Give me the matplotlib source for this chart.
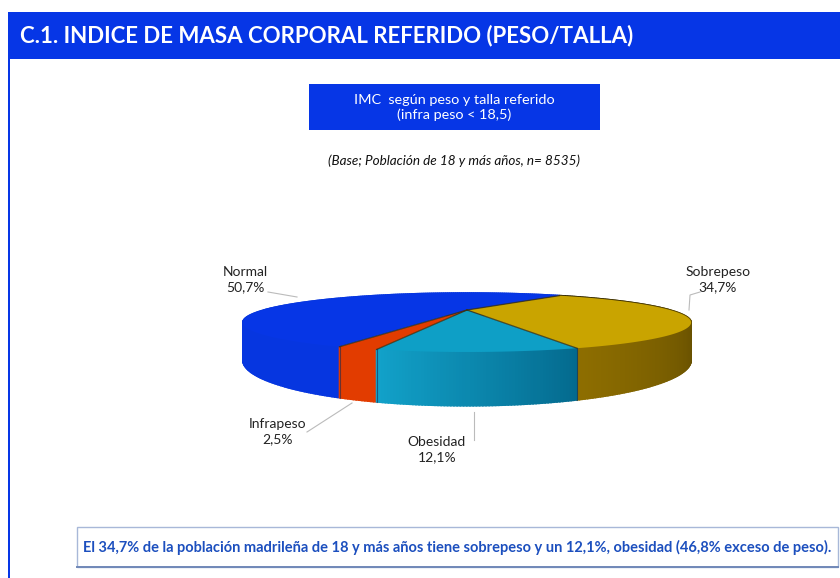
import numpy as np
import matplotlib
matplotlib.use('Agg')
import matplotlib.pyplot as plt
from matplotlib.patches import Rectangle
from matplotlib.colors import to_rgb

plt.rcParams['font.family'] = ['Lato', 'DejaVu Sans']

categories = ['Sobrepeso', 'Obesidad', 'Infrapeso', 'Normal']
values = [34.7, 12.1, 2.5, 50.7]
value_labels = ['34,7%', '12,1%', '2,5%', '50,7%']

blue = '#0636E6'
top_colors = ['#C9A400', '#0E9FC6', '#E23C00', '#0636E6']
wall_left = ['#8E6E00', '#12A2CA', '#E23C00', '#0636E0']
wall_right = ['#302600', '#046A8E', '#E23C00', '#0636E0']

# pie geometry, in pixels
cx, cy = 467, 310
rx, ry = 203, 24.2
persp = 0.4235
depth = 31
start = 31
warp = 0.22

def project(phi_deg):
    # phi is clockwise from the back of the pie
    phi = np.radians(phi_deg)
    phi = phi + warp * np.sin(phi)
    x = np.sin(phi)
    y = -np.cos(phi)
    s = 1 / (1 - persp * y)
    return cx + rx * x * s, cy + ry * y * s, s

fig = plt.figure(figsize=(8.4, 5.78), dpi=100)
ax = fig.add_axes([0, 0, 1, 1])
ax.set_xlim(0, 840)
ax.set_ylim(578, 0)
ax.axis('off')

# page frame and title
ax.add_patch(Rectangle((8, 12), 2, 566, color=blue, lw=0))
ax.add_patch(Rectangle((9, 12), 831, 47, color=blue, lw=0))
ax.text(20, 35.5, 'C.1. INDICE DE MASA CORPORAL REFERIDO (PESO/TALLA)', color='white',
        fontsize=16, fontweight='bold', va='center', ha='left')

ax.add_patch(Rectangle((309, 84), 291, 46, color=blue, lw=0))
ax.text(454, 100, 'IMC  según peso y talla referido', color='white', fontsize=10.4, ha='center', va='center')
ax.text(454, 115, '(infra peso < 18,5)', color='white', fontsize=10.4, ha='center', va='center')
ax.text(454, 161, '(Base; Población de 18 y más años, n= 8535)', color='#111111', fontsize=9.7,
        style='italic', ha='center', va='center')

# slice limits from the values
limits = start + np.cumsum([0] + values) * 3.6

# side walls first, back to front
quads = []
for i in range(len(values)):
    a, b = limits[i], limits[i + 1]
    n = max(int((b - a) * 1.5), 2)
    steps = np.linspace(a, b, n + 1)
    c0, c1 = np.array(to_rgb(wall_left[i])), np.array(to_rgb(wall_right[i]))
    for j in range(n):
        t = (j + 0.5) / n
        col = c0 * t + c1 * (1 - t)
        x1, y1, s1 = project(steps[j])
        x2, y2, s2 = project(steps[j + 1])
        quads.append((y1 + y2, [x1, x2, x2, x1], [y1, y2, y2 + depth * s2, y1 + depth * s1], col))
quads.sort(key=lambda q: q[0])
for q in quads:
    ax.fill(q[1], q[2], color=q[3], lw=1.2)

# top face
for i in range(len(values)):
    steps = np.linspace(limits[i], limits[i + 1], 120)
    x, y, s = project(steps)
    ax.fill(np.r_[cx, x], np.r_[cy, y], color=top_colors[i], lw=0)
for lim in limits[:-1]:
    x, y, s = project(lim)
    ax.plot([cx, x], [cy, y], color='#3A3010', lw=0.9, alpha=0.8)
    if np.cos(np.radians(lim)) < -0.5:
        ax.plot([x, x], [y, y + depth * s], color='#1A2A50', lw=0.8, alpha=0.6)

# labels and leader lines
label_pos = [(718, 272), (437, 442), (278, 424), (245, 272)]
leaders = [([700, 690, 689], [292, 295, 310]),
           ([474, 474], [412, 440]),
           ([307, 352], [432, 403]),
           ([268, 297], [292, 297])]
for i in range(len(categories)):
    ax.plot(leaders[i][0], leaders[i][1], color='#BBBBBB', lw=0.8)
    ax.text(label_pos[i][0], label_pos[i][1], categories[i], color='#222222', fontsize=10,
            ha='center', va='center')
    ax.text(label_pos[i][0], label_pos[i][1] + 15, value_labels[i], color='#222222', fontsize=10,
            ha='center', va='center')

# note at the bottom
ax.add_patch(Rectangle((77, 527), 761, 40, fc='white', ec='#A8B8D8', lw=1))
ax.plot([77, 838], [567, 567], color='#7088B8', lw=1.4)
ax.text(83, 547, 'El 34,7% de la población madrileña de 18 y más años tiene sobrepeso y un 12,1%, obesidad (46,8% exceso de peso).',
        color='#1C4FBE', fontsize=10.55, fontweight='bold', ha='left', va='center')

fig.savefig('out.png', dpi=100)
